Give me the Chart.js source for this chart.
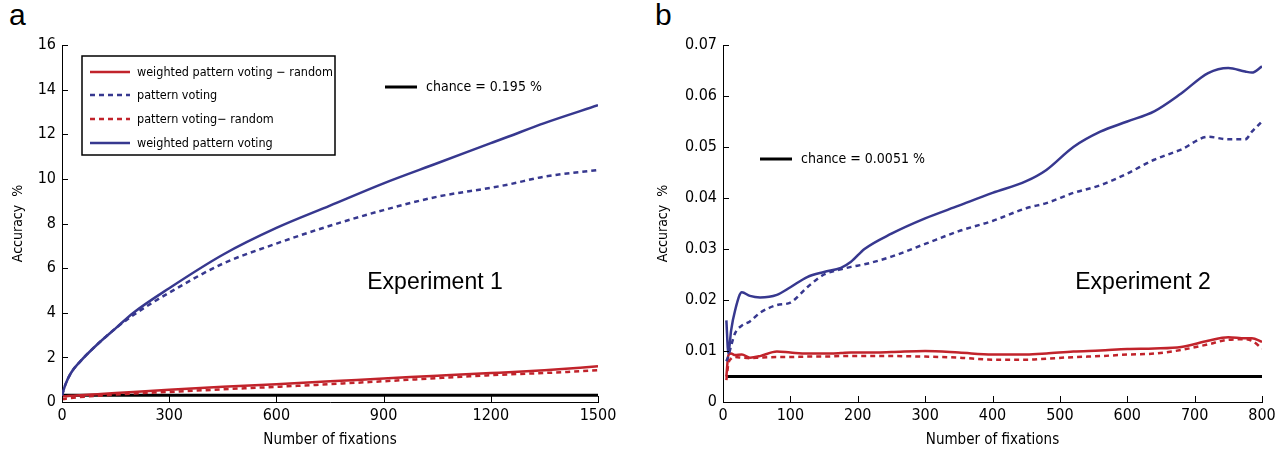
<!DOCTYPE html>
<html>
<head>
<meta charset="utf-8">
<script src="https://cdn.jsdelivr.net/npm/chart.js@4.4.1/dist/chart.umd.min.js"></script>
<style>
  body { margin: 0; background: #fff; width: 1286px; height: 457px; overflow: hidden; position: relative; }
  .panel { position: absolute; top: 0; height: 457px; }
  #pa { left: 0; width: 640px; }
  #pb { left: 640px; width: 646px; }
  .letter { position: absolute; top: -2px; font: 30px "Liberation Sans", Arial, sans-serif; color: #000; }
</style>
</head>
<body>
<div class="letter" style="left:9px">a</div>
<div class="letter" style="left:655px">b</div>
<div class="panel" id="pa"><canvas id="chartA" width="640" height="457"></canvas></div>
<div class="panel" id="pb"><canvas id="chartB" width="646" height="457"></canvas></div>
<script>
// ---- Experiment 1 ----
const exp1X = [0, 10, 25, 50, 100, 150, 200, 300, 450, 600, 750, 900, 1050, 1200, 1250, 1350, 1500];
const exp1Weighted = [0.3, 0.8, 1.3, 1.8, 2.6, 3.3, 4.0, 5.1, 6.6, 7.8, 8.8, 9.8, 10.7, 11.6, 11.9, 12.5, 13.3];
const exp1Pattern = [0.3, 0.8, 1.3, 1.8, 2.6, 3.3, 3.9, 4.9, 6.2, 7.1, 7.9, 8.6, 9.2, 9.6, 9.75, 10.1, 10.4];
const exp1WeightedRandom = [0.25, 0.26, 0.28, 0.3, 0.35, 0.4, 0.45, 0.55, 0.68, 0.8, 0.93, 1.05, 1.18, 1.3, 1.33, 1.42, 1.6];
const exp1PatternRandom = [0.12, 0.15, 0.18, 0.22, 0.28, 0.33, 0.38, 0.45, 0.57, 0.68, 0.8, 0.93, 1.07, 1.2, 1.24, 1.3, 1.42];
const exp1Chance = 0.3;
const exp1XTicks = [0, 300, 600, 900, 1200, 1500];
const exp1YTicks = [0, 2, 4, 6, 8, 10, 12, 14, 16];

// ---- Experiment 2 ----
const exp2X = [5, 8, 12, 18, 28, 40, 55, 80, 100, 125, 150, 175, 190, 210, 250, 300, 350, 400, 450, 480, 520, 560, 600, 640, 680, 720, 750, 775, 785, 800];
const exp2Weighted = [0.016, 0.0095, 0.014, 0.018, 0.0215, 0.0208, 0.0205, 0.021, 0.0225, 0.0245, 0.0255, 0.0263, 0.0275, 0.030, 0.033, 0.036, 0.0385, 0.041, 0.0433, 0.0455, 0.050, 0.053, 0.055, 0.057, 0.0605, 0.0645, 0.0655, 0.0648, 0.0646, 0.0658];
const exp2Pattern = [0.008, 0.009, 0.011, 0.0135, 0.015, 0.0158, 0.0175, 0.019, 0.0195, 0.0225, 0.025, 0.026, 0.0265, 0.027, 0.0285, 0.031, 0.0335, 0.0355, 0.038, 0.039, 0.041, 0.0425, 0.0448, 0.0475, 0.0495, 0.052, 0.0515, 0.0515, 0.053, 0.055];
const exp2WeightedRandom = [0.005, 0.0092, 0.0095, 0.0092, 0.0093, 0.0087, 0.009, 0.0099, 0.0097, 0.0095, 0.0095, 0.0096, 0.0097, 0.0097, 0.0098, 0.010, 0.0097, 0.0093, 0.0093, 0.0095, 0.0099, 0.0101, 0.0104, 0.0105, 0.0108, 0.012, 0.0127, 0.0125, 0.0125, 0.0118];
const exp2PatternRandom = [0.0043, 0.0075, 0.0085, 0.0088, 0.0087, 0.0086, 0.0087, 0.0088, 0.0088, 0.0089, 0.0089, 0.009, 0.009, 0.009, 0.009, 0.0089, 0.0087, 0.0083, 0.0083, 0.0085, 0.0088, 0.009, 0.0093, 0.0095, 0.0102, 0.0113, 0.0122, 0.0123, 0.012, 0.0105];
const exp2Chance = 0.005;
const exp2XTicks = [0, 100, 200, 300, 400, 500, 600, 700, 800];
const exp2YTicks = [0, 0.01, 0.02, 0.03, 0.04, 0.05, 0.06, 0.07];

const legendLabels = ['weighted pattern voting \u2212 random', 'pattern voting', 'pattern voting\u2212 random', 'weighted pattern voting'];

const BLUE = '#37388f';
const RED = '#c1232b';
const TICK_FONT = { family: '"Liberation Sans Narrow", "DejaVu Sans Condensed", sans-serif', size: 16 };
const TEXT_FONT = '"Liberation Sans Narrow", "DejaVu Sans Condensed", sans-serif';

const zip = (xs, ys) => xs.map((x, i) => ({ x: x, y: ys[i] }));

function seriesSets(xs, wr, p, pr, w, chance, xmin, xmax) {
  const base = { pointRadius: 0, borderWidth: 2.5, fill: false, cubicInterpolationMode: 'monotone' };
  return [
    Object.assign({}, base, { label: legendLabels[0], data: zip(xs, wr), borderColor: RED, order: 2 }),
    Object.assign({}, base, { label: legendLabels[1], data: zip(xs, p), borderColor: BLUE, borderDash: [5, 4], order: 1 }),
    Object.assign({}, base, { label: legendLabels[2], data: zip(xs, pr), borderColor: RED, borderDash: [5, 4], order: 3 }),
    Object.assign({}, base, { label: legendLabels[3], data: zip(xs, w), borderColor: BLUE, order: 0 }),
    { label: 'chance', data: [{ x: xmin, y: chance }, { x: xmax, y: chance }], borderColor: '#000', borderWidth: 3, pointRadius: 0, order: 4 }
  ];
}

// inward tick marks on both axes
const inwardTicks = {
  id: 'inwardTicks',
  afterDraw(chart) {
    const { ctx, chartArea: a, scales: { x, y } } = chart;
    ctx.save();
    ctx.strokeStyle = '#000';
    ctx.lineWidth = 1;
    x.ticks.forEach(t => {
      const px = Math.round(x.getPixelForValue(t.value)) + 0.5;
      ctx.beginPath(); ctx.moveTo(px, a.bottom); ctx.lineTo(px, a.bottom - 6); ctx.stroke();
    });
    y.ticks.forEach(t => {
      const py = Math.round(y.getPixelForValue(t.value)) + 0.5;
      ctx.beginPath(); ctx.moveTo(a.left, py); ctx.lineTo(a.left + 6, py); ctx.stroke();
    });
    ctx.restore();
  }
};

// legend box, chance note and experiment label
const notes = {
  id: 'notes',
  afterDraw(chart, args, opts) {
    const ctx = chart.ctx;
    ctx.save();
    if (opts.box) {
      const b = opts.box;
      ctx.strokeStyle = '#000';
      ctx.lineWidth = 1.5;
      ctx.strokeRect(b.x, b.y, b.w, b.h);
      ctx.font = '12.5px ' + TEXT_FONT;
      ctx.textBaseline = 'middle';
      ctx.fillStyle = '#000';
      chart.data.datasets.slice(0, 4).forEach((ds, i) => {
        const yy = b.rows[i];
        ctx.strokeStyle = ds.borderColor;
        ctx.lineWidth = 2.5;
        ctx.setLineDash(ds.borderDash || []);
        ctx.beginPath(); ctx.moveTo(b.x + 8, yy); ctx.lineTo(b.x + 48, yy); ctx.stroke();
        ctx.setLineDash([]);
        ctx.fillText(ds.label, b.x + 55, yy + 1);
      });
    }
    const c = opts.chance;
    ctx.strokeStyle = '#000';
    ctx.lineWidth = 3;
    ctx.beginPath(); ctx.moveTo(c.x, c.y); ctx.lineTo(c.x + 32, c.y); ctx.stroke();
    ctx.font = '14px ' + TEXT_FONT;
    ctx.textBaseline = 'middle';
    ctx.fillStyle = '#000';
    ctx.fillText(c.text, c.x + 41, c.y);
    const e = opts.exp;
    ctx.font = '23px "Liberation Sans", Arial, sans-serif';
    ctx.textAlign = 'center';
    ctx.fillText(e.text, e.x, e.y);
    ctx.restore();
  }
};

function makeChart(id, datasets, xTicks, yTicks, xMax, yMax, yWidth, padRight, yTitlePad, fmt, noteOpts) {
  return new Chart(document.getElementById(id), {
    type: 'line',
    data: { datasets: datasets },
    plugins: [inwardTicks, notes],
    options: {
      responsive: false,
      animation: false,
      layout: { padding: { top: 45, right: padRight, bottom: 0, left: 0 } },
      plugins: { legend: { display: false }, tooltip: { enabled: false }, notes: noteOpts },
      scales: {
        x: {
          type: 'linear', min: 0, max: xMax,
          afterBuildTicks: s => { s.ticks = xTicks.map(v => ({ value: v })); },
          afterFit: s => { s.height = 55; },
          grid: { display: false, drawTicks: false },
          border: { display: true, color: '#000', width: 1 },
          ticks: { color: '#000', font: TICK_FONT, padding: 4, maxRotation: 0, callback: v => String(v) },
          title: { display: true, text: 'Number of fixations', color: '#000', font: { family: TICK_FONT.family, size: 15 }, padding: { top: 0, bottom: 8 } }
        },
        y: {
          type: 'linear', min: 0, max: yMax,
          afterBuildTicks: s => { s.ticks = yTicks.map(v => ({ value: v })); },
          afterFit: s => { s.width = yWidth; },
          grid: { display: false, drawTicks: false },
          border: { display: true, color: '#000', width: 1 },
          ticks: { color: '#000', font: TICK_FONT, padding: 6, callback: fmt },
          title: { display: true, text: 'Accuracy  %', color: '#000', font: { family: TICK_FONT.family, size: 14 }, padding: { top: yTitlePad, bottom: 0 } }
        }
      }
    }
  });
}

makeChart('chartA',
  seriesSets(exp1X, exp1WeightedRandom, exp1Pattern, exp1PatternRandom, exp1Weighted, exp1Chance, 0, 1500),
  exp1XTicks, exp1YTicks, 1500, 16, 62, 42, 10, v => String(v),
  { box: { x: 82, y: 56, w: 253, h: 99, rows: [72, 95, 119, 143] },
    chance: { x: 385, y: 87, text: 'chance = 0.195 %' },
    exp: { x: 435, y: 283, text: 'Experiment 1' } });

makeChart('chartB',
  seriesSets(exp2X, exp2WeightedRandom, exp2Pattern, exp2PatternRandom, exp2Weighted, exp2Chance, 5, 800),
  exp2XTicks, exp2YTicks, 800, 0.07, 83, 24, 15, v => (v === 0 ? '0' : v.toFixed(2)),
  { chance: { x: 120, y: 159, text: 'chance = 0.0051 %' },
    exp: { x: 503, y: 283, text: 'Experiment 2' } });
</script>
</body>
</html>
